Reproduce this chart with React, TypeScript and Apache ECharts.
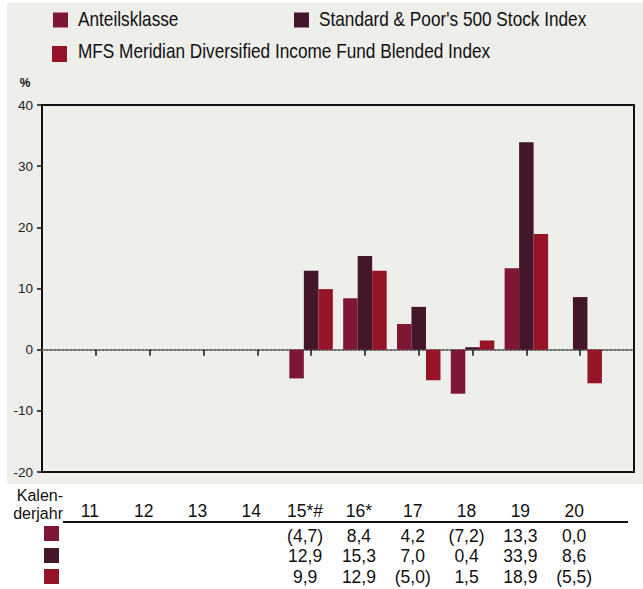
import { useEffect, useRef } from 'react';
import * as echarts from 'echarts';

const years = ['11', '12', '13', '14', '15*#', '16*', '17', '18', '19', '20'];
const anteil = [null, null, null, null, -4.7, 8.4, 4.2, -7.2, 13.3, 0.0];
const sp500 = [null, null, null, null, 12.9, 15.3, 7.0, 0.4, 33.9, 8.6];
const mfs = [null, null, null, null, 9.9, 12.9, -5.0, 1.5, 18.9, -5.5];
const seriesNames = [
  'Anteilsklasse',
  "Standard & Poor's 500 Stock Index",
  'MFS Meridian Diversified Income Fund Blended Index',
];
const seriesValues = [anteil, sp500, mfs];
const colors = ['#7d1733', '#441629', '#961427'];
const yMin = -20;
const yMax = 40;
const yStep = 10;

const SANS = '"Liberation Sans", Arial, sans-serif';

function fmt(v: number | null): string {
  if (v === null || v === undefined) return '';
  const s = Math.abs(v).toFixed(1).replace('.', ',');
  return v < 0 ? `(${s})` : s;
}

export default function App() {
  const ref = useRef<HTMLDivElement>(null);
  useEffect(() => {
    document.body.style.margin = '0';
    if (!ref.current) return;
    const chart = echarts.init(ref.current, undefined, { renderer: 'svg' });
    const idx = years.map((_, i) => i);

    const legendIcon = (name: string, left: number, top: number, iw: number, ih: number) => ({
      data: [name],
      left,
      top,
      padding: 0,
      icon: 'rect',
      itemWidth: iw,
      itemHeight: ih,
      selectedMode: false,
      formatter: () => '',
      textStyle: { fontSize: 1, lineHeight: ih },
    });

    const legendText = (name: string, x: number, y: number) => ({
      type: 'text',
      x,
      y,
      scaleX: 0.82,
      style: { text: name, fontFamily: SANS, fontSize: 21, fill: '#111', align: 'left', verticalAlign: 'middle' },
    });

    const tableRows: { center: number; labels: string[] }[] = [
      { center: 511, labels: years },
      ...seriesValues.map((arr, k) => ({ center: [535.5, 556, 576.5][k], labels: arr.map(fmt) })),
    ];

    const grids: any[] = [
      { left: 42, right: 9, top: 105, bottom: 117, show: true, borderColor: '#111', borderWidth: 2, backgroundColor: 'transparent' },
      ...tableRows.map((r) => ({ left: 36, right: 15, top: r.center - 1, height: 1 })),
    ];

    const xAxes: any[] = [
      {
        type: 'value',
        gridIndex: 0,
        min: -1,
        max: 10,
        interval: 1,
        axisLine: { onZero: true, lineStyle: { color: '#6e6e6e', type: 'dotted', width: 2 } },
        axisTick: { show: true, customValues: idx, length: 6, lineStyle: { color: '#111', width: 1.5 } },
        axisLabel: { show: false },
        splitLine: { show: false },
      },
      ...tableRows.map((r, k) => ({
        type: 'value',
        gridIndex: k + 1,
        position: 'bottom',
        min: -1,
        max: 10,
        interval: 1,
        axisLine: { show: false },
        axisTick: { show: false },
        splitLine: { show: false },
        axisLabel: {
          margin: 0,
          verticalAlign: 'middle',
          fontFamily: SANS,
          fontSize: 17.5,
          color: '#111',
          formatter: (val: number) => {
            const i = Math.round(val);
            return i >= 0 && i < r.labels.length ? r.labels[i] : '';
          },
        },
      })),
    ];

    const yAxes: any[] = [
      {
        type: 'value',
        gridIndex: 0,
        min: yMin,
        max: yMax,
        interval: yStep,
        axisLine: { show: true, onZero: false, lineStyle: { color: '#111', width: 2 } },
        axisTick: { show: true, length: 5, lineStyle: { color: '#111', width: 1.5 } },
        axisLabel: { margin: 9, fontFamily: SANS, fontSize: 13.5, color: '#222' },
        splitLine: { show: false },
      },
      ...tableRows.map((_, k) => ({ type: 'value', gridIndex: k + 1, show: false })),
    ];

    const option: any = {
      animation: false,
      backgroundColor: 'transparent',
      textStyle: { fontFamily: SANS },
      grid: grids,
      xAxis: xAxes,
      yAxis: yAxes,
      legend: [
        legendIcon(seriesNames[0], 53, 12.5, 15, 15),
        legendIcon(seriesNames[1], 294, 12.5, 15, 15),
        legendIcon(seriesNames[2], 52, 46, 15, 16),
        legendIcon(seriesNames[0], 44, 526, 15, 15),
        legendIcon(seriesNames[1], 44, 548, 15, 15),
        legendIcon(seriesNames[2], 44, 569, 15, 15),
      ],
      series: seriesValues.map((arr, k) => ({
        type: 'bar',
        name: seriesNames[k],
        xAxisIndex: 0,
        yAxisIndex: 0,
        barWidth: 14.5,
        barGap: '0%',
        itemStyle: { color: colors[k] },
        data: arr.map((v, i) => (v === null ? null : [i, v])).filter((d) => d !== null),
      })),
      graphic: [
        legendText(seriesNames[0], 78, 18.5),
        legendText(seriesNames[1], 319, 18.5),
        legendText(seriesNames[2], 78, 50.5),
        {
          type: 'text',
          x: 25,
          y: 83,
          style: { text: '%', fontFamily: SANS, fontSize: 12, fontWeight: 'bold', fill: '#111', align: 'center', verticalAlign: 'middle' },
        },
        {
          type: 'text',
          x: 63,
          y: 486,
          style: { text: 'Kalen-\nderjahr', fontFamily: SANS, fontSize: 16, lineHeight: 18, fill: '#111', align: 'right', verticalAlign: 'top' },
        },
        {
          type: 'line',
          shape: { x1: 63, y1: 522, x2: 628, y2: 522 },
          style: { stroke: '#111', lineWidth: 2 },
        },
      ],
    };
    chart.setOption(option);
    return () => chart.dispose();
  }, []);

  return (
    <div style={{ position: 'relative', width: 643, height: 589, background: '#fff' }}>
      <div style={{ position: 'absolute', left: 7, top: 3, width: 636, height: 481, background: '#eeeeea' }} />
      <div ref={ref} style={{ position: 'absolute', left: 0, top: 0, width: 643, height: 589 }} />
    </div>
  );
}
